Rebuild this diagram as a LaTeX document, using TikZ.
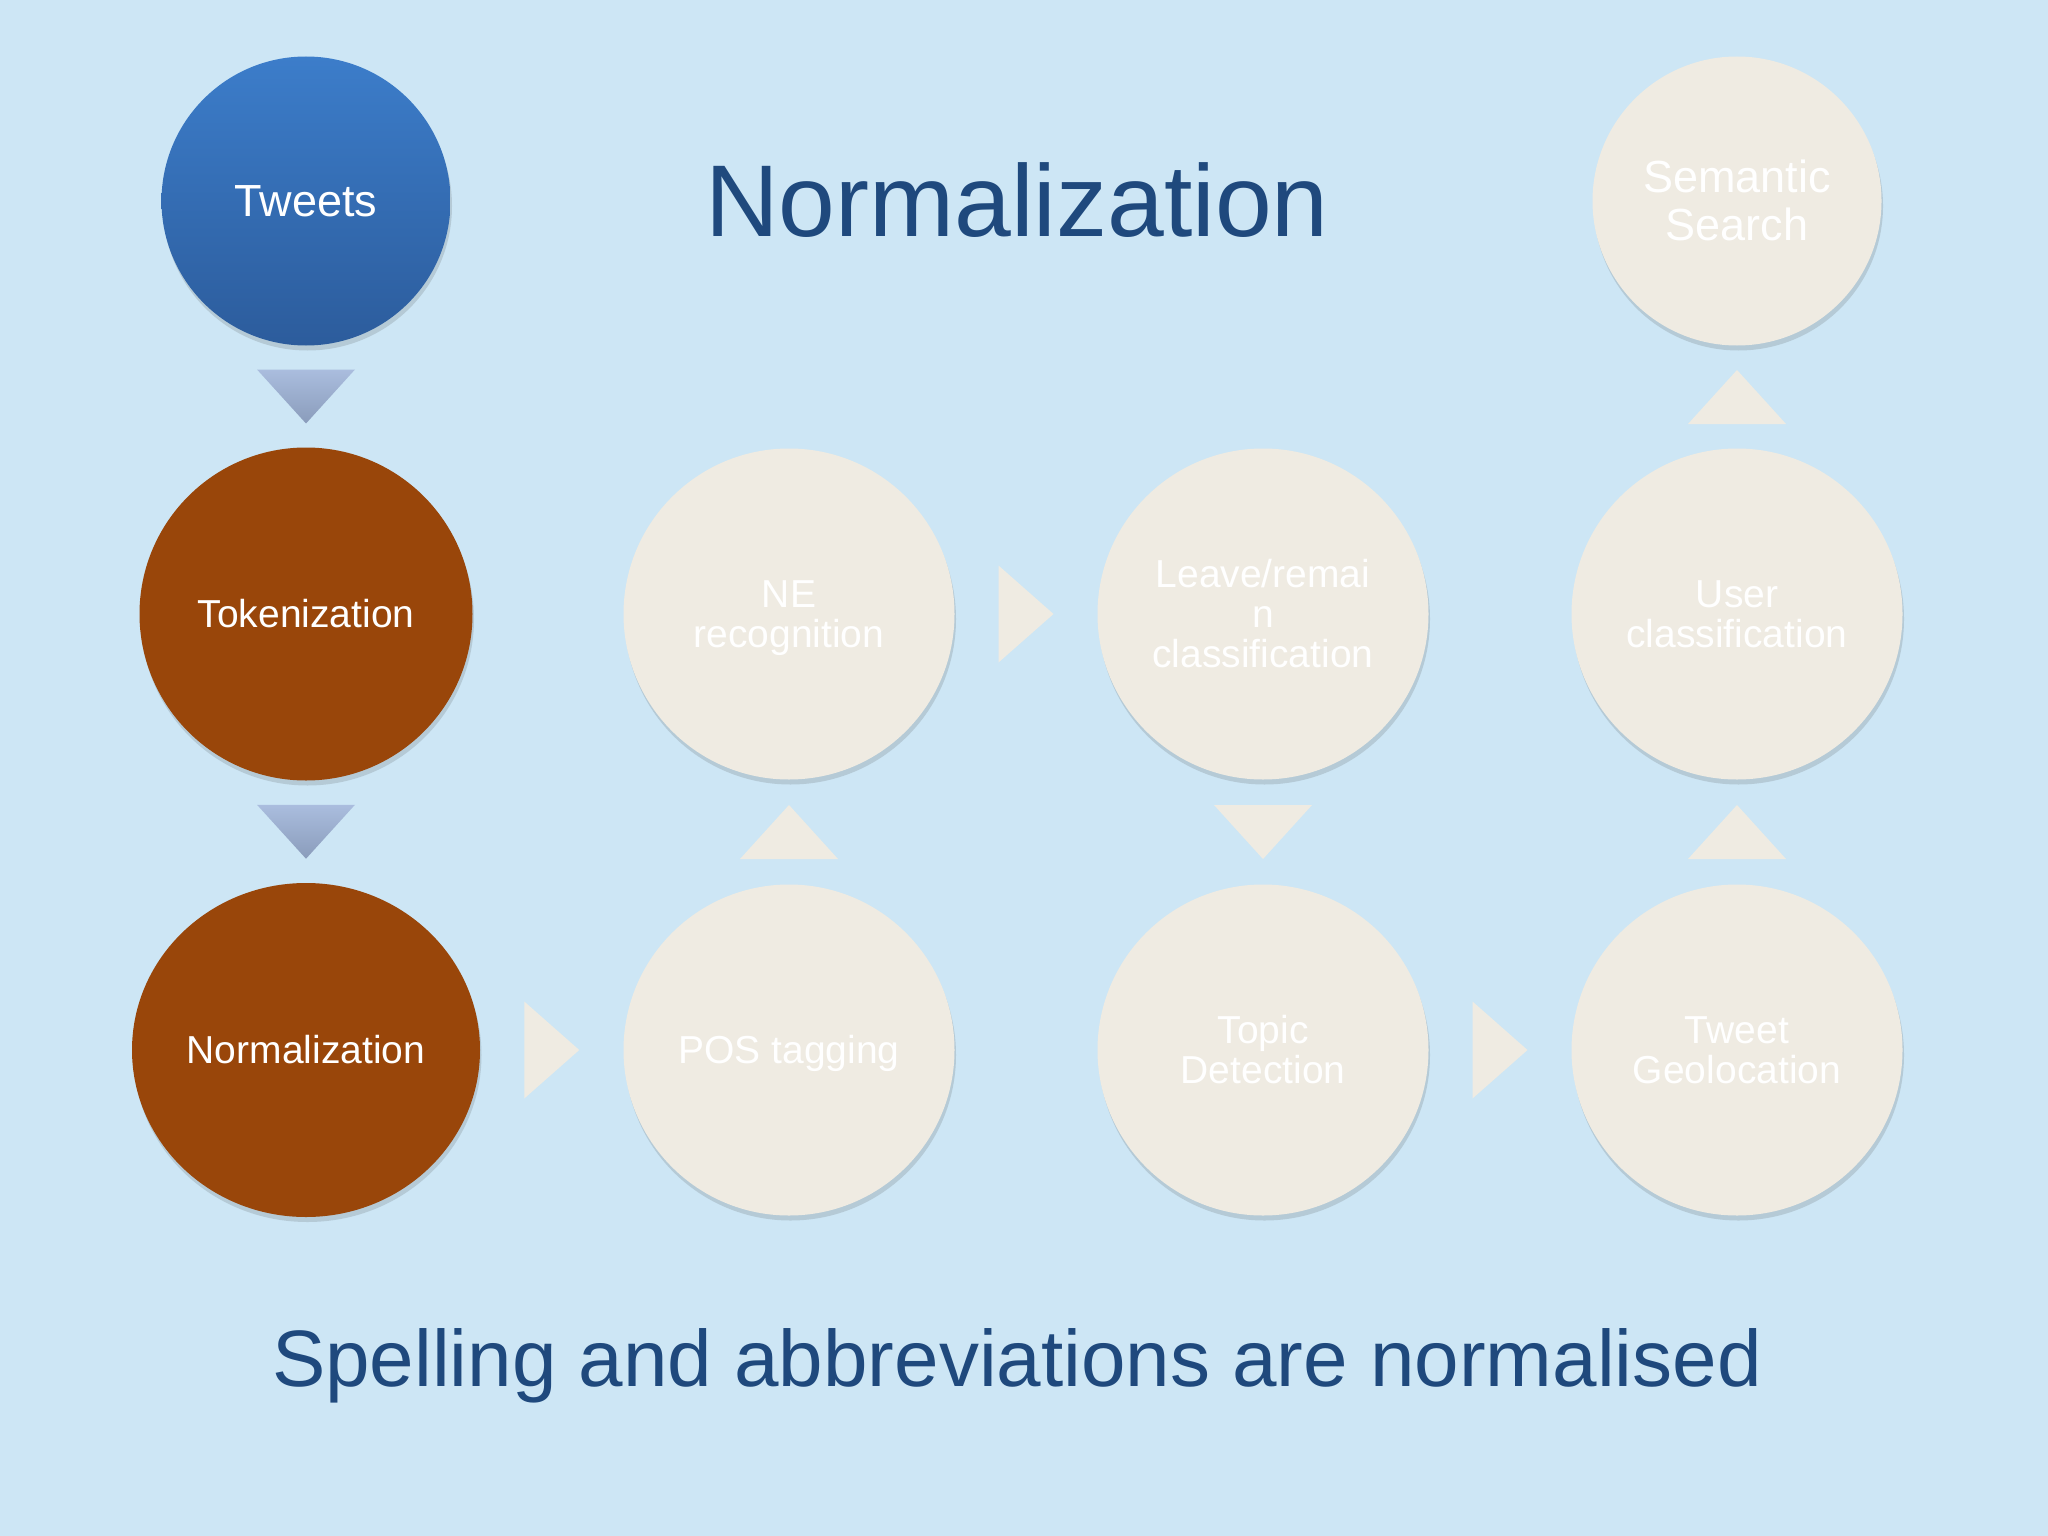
\documentclass[tikz,border=0pt]{standalone}
\usepackage{fontspec}
\setmainfont{Liberation Sans}
\usetikzlibrary{shadows,calc,shapes.geometric}
\definecolor{bg}{HTML}{CDE6F5}
\definecolor{titleblue}{HTML}{1F497D}
\definecolor{tweettop}{HTML}{3C7DCA}
\definecolor{tweetbot}{HTML}{2C5C9C}
\definecolor{rust}{HTML}{99460A}
\definecolor{cream}{HTML}{EFEBE2}
\definecolor{tritop}{HTML}{AABDDE}
\definecolor{tribot}{HTML}{8A9CBB}
\newcommand{\topstrut}{\rule{0pt}{0.905em}}
\newcommand{\botstrut}{\rule[-0.212em]{0pt}{0.212em}}
\tikzset{
  csh/.style={drop shadow={shadow xshift=1.5pt, shadow yshift=-5pt, opacity=0.18, fill=black!70}},
  bubble/.style={circle, inner sep=0pt, align=center, text=white, csh},
  bluebub/.style={bubble, top color=tweettop, bottom color=tweetbot, font=\fontsize{45}{49}\selectfont},
  rustbub/.style={bubble, fill=rust, font=\fontsize{39}{40}\selectfont},
  creambub/.style={bubble, fill=cream, font=\fontsize{39}{40}\selectfont},
  bluetri/.style={top color=tritop, bottom color=tribot},
  creamtri/.style={fill=cream, drop shadow={shadow xshift=0.5pt, shadow yshift=-3pt, opacity=0.2, fill=black!70}},
  tri down/.pic={\path[pic actions] (-49,-27) -- (49,-27) -- (0,27) -- cycle;},
  tri up/.pic={\path[pic actions] (-49,27) -- (49,27) -- (0,-27) -- cycle;},
  tri right/.pic={\path[pic actions] (-27.5,-48.5) -- (-27.5,48.5) -- (27.5,0) -- cycle;},
}
\begin{document}
\begin{tikzpicture}[x=1pt,y=-1pt]
\useasboundingbox (0,0) rectangle (2048,1536);
\fill[bg] (0,0) rectangle (2048,1536);

\node[text=titleblue, anchor=base, font=\fontsize{102}{110}\selectfont] (title) at (1017,236) {Normalization};
\node[text=titleblue, anchor=base, font=\fontsize{80}{90}\selectfont] (caption) at (1017,1386) {Spelling and abbreviations are normalised};

\node[bluebub, minimum size=289pt] (tw) at (306,201) {Tweets};
\node[rustbub, minimum size=333pt] (tok) at (306,614) {Tokenization};
\node[rustbub, ellipse, inner sep=0pt, minimum width=348pt, minimum height=334pt] (norm) at (306,1050) {Normalization};

\node[creambub, minimum size=331pt] (ne) at (789,614) {\topstrut NE\\recognition\botstrut};
\node[creambub, minimum size=331pt] (leave) at (1263,614) {\topstrut Leave/remai\\n\\classification\botstrut};
\node[creambub, minimum size=331pt] (user) at (1737,614) {\topstrut User\\classification\botstrut};
\node[creambub, minimum size=331pt] (pos) at (789,1050) {\topstrut POS tagging\botstrut};
\node[creambub, minimum size=331pt] (topic) at (1263,1050) {\topstrut Topic\\Detection\botstrut};
\node[creambub, minimum size=331pt] (geo) at (1737,1050) {\topstrut Tweet\\Geolocation\botstrut};
\node[creambub, minimum size=289pt, font=\fontsize{45}{48}\selectfont] (sem) at (1737,201) {\topstrut Semantic\\Search\botstrut};

\pic[bluetri] at ($(tw.south)!0.5!(tok.north)$) {tri down};
\pic[bluetri] at ($(tok.south)!0.5!(norm.north)$) {tri down};
\pic[creamtri] at ($(norm.east)!0.5!(pos.west)$) {tri right};
\pic[creamtri] at ($(pos.north)!0.5!(ne.south)$) {tri up};
\pic[creamtri] at ($(ne.east)!0.5!(leave.west)$) {tri right};
\pic[creamtri] at ($(leave.south)!0.5!(topic.north)$) {tri down};
\pic[creamtri] at ($(topic.east)!0.5!(geo.west)$) {tri right};
\pic[creamtri] at ($(geo.north)!0.5!(user.south)$) {tri up};
\pic[creamtri] at ($(user.north)!0.5!(sem.south)$) {tri up};
\end{tikzpicture}
\end{document}
